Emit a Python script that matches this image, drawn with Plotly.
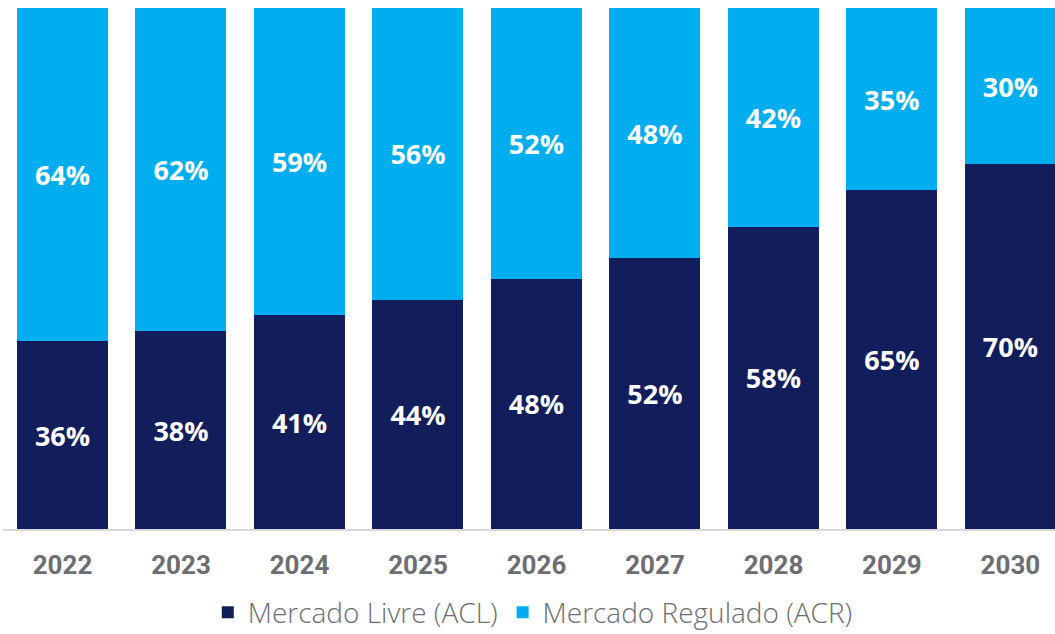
import plotly.graph_objects as go

years = ["2022", "2023", "2024", "2025", "2026", "2027", "2028", "2029", "2030"]
acl = [36, 38, 41, 44, 48, 52, 58, 65, 70]
acr = [64, 62, 59, 56, 52, 48, 42, 35, 30]
series_names = ["Mercado Livre (ACL)", "Mercado Regulado (ACR)"]
colors = ["#121D5C", "#00AEEF"]

fig = go.Figure()
for name, vals, col in zip(series_names, [acl, acr], colors):
    fig.add_trace(go.Bar(
        x=years, y=vals, name=name, marker=dict(color=col, line=dict(width=0)),
        text=[f"{v}%" for v in vals], textposition="inside",
        insidetextanchor="middle",
        textfont=dict(family="Open Sans", size=27, color="white", weight="bold"),
        hoverinfo="skip",
    ))

fig.update_layout(
    barmode="stack", bargap=0.232,
    width=1055, height=634,
    margin=dict(l=3, r=0, t=8, b=105),
    paper_bgcolor="white", plot_bgcolor="white",
    uniformtext=dict(mode=False),
    xaxis=dict(
        type="category", range=[-0.502, 8.376],
        showline=True, linecolor="#D9D9D9", linewidth=2,
        showgrid=False, ticks="", ticklabelstandoff=12,
        tickfont=dict(family="Roboto", size=26, color="#6D6E71", weight="bold"),
        automargin=False,
    ),
    yaxis=dict(range=[0, 100], visible=False, showgrid=False),
    legend=dict(
        orientation="h", xref="container", yref="container",
        x=0.505, xanchor="center", y=0.034, yanchor="middle",
        font=dict(family="Open Sans", size=28, color="#6D6E71", weight=300),
        itemwidth=30, traceorder="normal",
    ),
)

fig.write_html("out.html")
